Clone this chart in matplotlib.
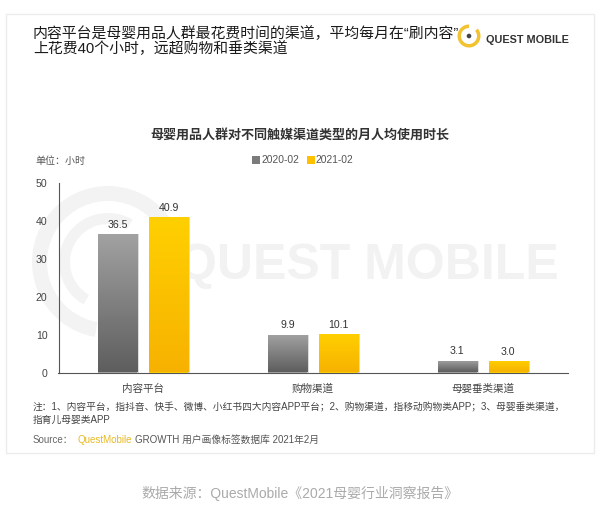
import numpy as np
import matplotlib.pyplot as plt
from matplotlib.colors import to_rgb
from matplotlib.patches import Rectangle, Circle, Wedge

# Latin glyphs from Liberation Sans (Arial-like), CJK falls back to Noto
plt.rcParams['font.family'] = ['Liberation Sans', 'Noto Sans CJK SC', 'DejaVu Sans']

CATEGORIES = ["内容平台", "购物渠道", "母婴垂类渠道"]
SERIES_NAMES = ["2020-02", "2021-02"]
VALUES_2020 = [36.5, 9.9, 3.1]
VALUES_2021 = [40.9, 10.1, 3.0]
Y_TICKS = [0, 10, 20, 30, 40, 50]

TITLE = "内容平台是母婴用品人群最花费时间的渠道，平均每月在\u201c刷内容\u201d\n上花费40个小时，远超购物和垂类渠道"
CHART_TITLE = "母婴用品人群对不同触媒渠道类型的月人均使用时长"
NOTE = ("注：1、内容平台，指抖音、快手、微博、小红书四大内容APP平台；2、购物渠道，指移动购物类APP；3、母婴垂类渠道，\n"
        "指育儿母婴类APP")
FOOTER = "数据来源：QuestMobile《2021母婴行业洞察报告》"

W, H = 600, 511
fig = plt.figure(figsize=(W / 100, H / 100), dpi=100)
fig.patch.set_facecolor("white")


def fx(px):
    return px / W


def fy(py):
    return 1 - py / H


# faint frame round the slide
fig.patches.append(Rectangle((fx(6), fy(453)), fx(588), 439 / H, transform=fig.transFigure,
                             fill=False, ec="#ececec", lw=1))

# background watermark
wm = fig.add_axes([0, 0, 1, 1], zorder=0)
wm.set_xlim(0, W)
wm.set_ylim(H, 0)
wm.axis("off")
wm.add_patch(Wedge((108, 262), 76, 100, 330, width=15, color="#f3f3f3", lw=0))
wm.add_patch(Wedge((108, 262), 49, 120, 300, width=11, color="#f3f3f3", lw=0))
wm.text(368, 266, "QUEST MOBILE", fontsize=36, fontweight="bold", color="#f2f2f2",
        ha="center", va="center")

# top logo
wm.add_patch(Wedge((469, 36), 11.5, 320, 270, width=3.5, color="#f2c230", lw=0))
wm.add_patch(Circle((469, 36), 1.6, color="#444444"))
wm.text(486, 40, "QUEST MOBILE", fontsize=7.8, fontweight="bold", color="#333333",
        ha="left", va="center")

fig.text(fx(33), fy(41), TITLE, fontsize=10.7, color="#1a1a1a", ha="left", va="center",
         linespacing=1.05)
fig.text(fx(300), fy(135), CHART_TITLE, fontsize=9.4, color="#333333", ha="center",
         va="center", fontweight="bold")
fig.text(fx(35), fy(161), "单位：小时", fontsize=7.2, color="#555555", ha="left", va="center")

# legend
leg_colors = ["#7b7b7b", "#ffc000"]
for i, (name, c) in enumerate(zip(SERIES_NAMES, leg_colors)):
    x0 = 252 + i * 55
    fig.patches.append(Rectangle((fx(x0), fy(164)), fx(8), 8 / H, transform=fig.transFigure,
                                 color=c, lw=0))
    fig.text(fx(x0 + 9), fy(160), name, fontsize=7.4, color="#555555", ha="left", va="center")

ax = fig.add_axes([fx(58.5), fy(372.5), fx(509), (372.5 - 183) / H], zorder=1)
ax.patch.set_alpha(0)
ax.set_yticks(Y_TICKS)
ax.set_yticklabels([str(t) for t in Y_TICKS], fontsize=7.6, color="#444444")
ax.set_xticks(range(len(CATEGORIES)))
ax.set_xticklabels(CATEGORIES, fontsize=7.6, color="#444444")
ax.tick_params(length=0, pad=8)
ax.tick_params(axis="x", pad=8)
for s in ["top", "right"]:
    ax.spines[s].set_visible(False)
for s in ["left", "bottom"]:
    ax.spines[s].set_color("#555555")
    ax.spines[s].set_linewidth(0.8)

x = np.arange(len(CATEGORIES))
bw = 0.23
off = 0.15
grads = [("#a2a2a2", "#5e5e5e"), ("#ffd000", "#f7b200")]
for vals, sign, (top_c, bot_c) in zip([VALUES_2020, VALUES_2021], [-1, 1], grads):
    bars = ax.bar(x + sign * off, vals, bw, color=top_c, lw=0, zorder=2)
    for b, v in zip(bars, vals):
        # soft shadow
        ax.add_patch(Rectangle((b.get_x() + 0.012, 0), bw, v, color="#dcdcdc", lw=0, zorder=1.5))
        c1 = np.array(to_rgb(top_c))
        c2 = np.array(to_rgb(bot_c))
        t = np.linspace(0, 1, 64)[:, None]
        img = (c1 * (1 - t) + c2 * t)[:, None, :]
        im = ax.imshow(img, extent=[b.get_x(), b.get_x() + bw, 0, v], aspect="auto",
                       origin="upper", zorder=2.5)
        im.set_clip_path(b)
        ax.text(b.get_x() + bw / 2, v + 1.2, f"{v:.1f}", ha="center", va="bottom",
                fontsize=7.6, color="#333333")
ax.set_xlim(-0.5, 2.5)
ax.set_ylim(0, 50)

fig.text(fx(33), fy(414), NOTE, fontsize=7.0, color="#444444", ha="left", va="center",
         linespacing=1.3)

src = fig.text(fx(33), fy(440), "Source：", fontsize=7.0, color="#666666", ha="left", va="center")
qm = wm.annotate("QuestMobile", xy=(1, 0.5), xycoords=src, xytext=(3, 0),
                 textcoords="offset points", fontsize=7.0, color="#e8b923", ha="left", va="center")
wm.annotate("GROWTH 用户画像标签数据库 2021年2月", xy=(1, 0.5), xycoords=qm, xytext=(2, 0),
            textcoords="offset points", fontsize=7.0, color="#555555", ha="left", va="center")

fig.text(fx(300), fy(493), FOOTER, fontsize=10, color="#aaaaaa", ha="center", va="center")

fig.savefig("out.png", dpi=100)
